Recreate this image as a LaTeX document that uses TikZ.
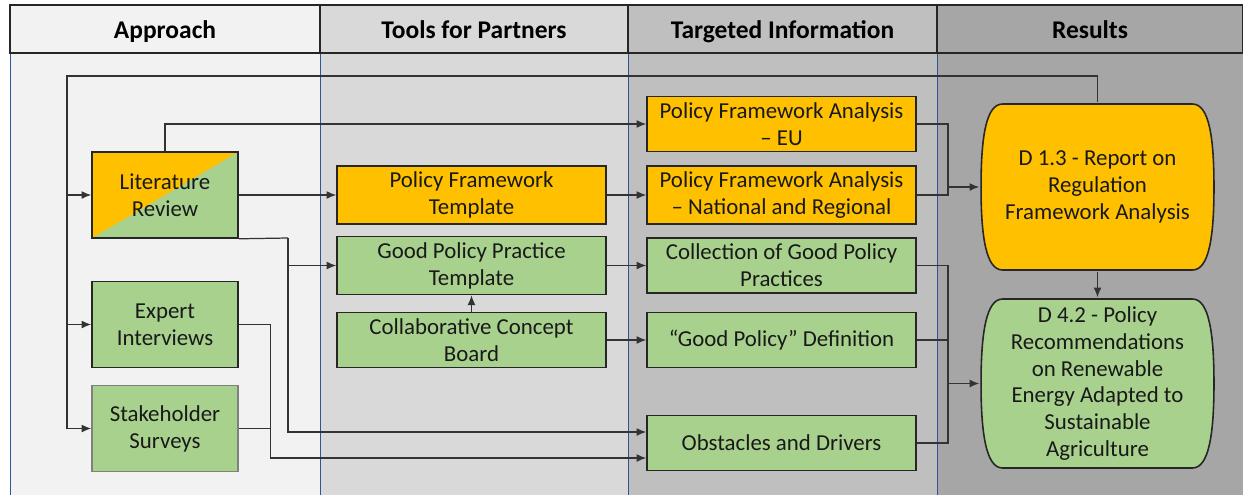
\documentclass[tikz,border=0pt]{standalone}
\usepackage{fontspec}
\setmainfont{Carlito}
\usepackage{tikz}
\usetikzlibrary{arrows.meta}

\definecolor{colA}{HTML}{F2F2F2}
\definecolor{colT}{HTML}{D9D9D9}
\definecolor{colI}{HTML}{BFBFBF}
\definecolor{colR}{HTML}{A6A6A6}
\definecolor{amber}{HTML}{FFC000}
\definecolor{leaf}{HTML}{A9D18E}
\definecolor{sepblue}{HTML}{2F5597}

\begin{document}
\begin{tikzpicture}[x=0.02cm,y=-0.02cm]
\tikzset{head/.style = {draw=black!85,line width=1.2pt,minimum height=0.96cm,text height=2.3ex,text depth=0.1ex,font=\fontsize{14.5}{16}\selectfont\bfseries}}
\tikzset{box/.style = {draw=black!85,line width=0.9pt,align=center,text=black!90,font=\fontsize{13}{15.3}\selectfont}}
\tikzset{apbox/.style = {box,fill=leaf,minimum width=2.92cm,minimum height=1.72cm}}
\tikzset{wbox/.style = {box,minimum width=5.38cm,minimum height=1.1cm}}
\tikzset{result/.style = {box,draw=none,minimum width=4.7cm,
  path picture={\filldraw[fill=#1,draw=black!85,line width=0.9pt]
    ([xshift=0.45cm,yshift=-0.02cm]path picture bounding box.north west) -- ([xshift=-0.45cm,yshift=-0.02cm]path picture bounding box.north east)
    .. controls ([xshift=-0.12cm,yshift=-0.02cm]path picture bounding box.north east) and ([xshift=-0.02cm,yshift=1.0cm]path picture bounding box.east) .. ([xshift=-0.02cm]path picture bounding box.east)
    .. controls ([xshift=-0.02cm,yshift=-1.0cm]path picture bounding box.east) and ([xshift=-0.12cm,yshift=0.02cm]path picture bounding box.south east) .. ([xshift=-0.45cm,yshift=0.02cm]path picture bounding box.south east)
    -- ([xshift=0.45cm,yshift=0.02cm]path picture bounding box.south west)
    .. controls ([xshift=0.12cm,yshift=0.02cm]path picture bounding box.south west) and ([xshift=0.02cm,yshift=-1.0cm]path picture bounding box.west) .. ([xshift=0.02cm]path picture bounding box.west)
    .. controls ([xshift=0.02cm,yshift=1.0cm]path picture bounding box.west) and ([xshift=0.12cm,yshift=-0.02cm]path picture bounding box.north west) .. cycle;}}}
\tikzset{edge/.style = {-,draw=black!80,line width=0.7pt}}
\tikzset{arr/.style = {edge,->,> = {Latex[length=5.5pt,width=4.5pt]}}}
\useasboundingbox (0,0) rectangle (1243,495);
% columns
\fill[colA] (10,53) rectangle (320,495);
\fill[colT] (320,53) rectangle (628,495);
\fill[colI] (628,53) rectangle (937,495);
\fill[colR] (937,53) rectangle (1243,495);
\foreach \x in {10,320,628,937}
  \draw[sepblue,line width=0.5pt] (\x,53) -- (\x,495);
\node[head,fill=colA,minimum width=6.2cm]  (hA) at (165,29)  {Approach};
\node[head,fill=colT,minimum width=6.16cm] (hT) at (474,29)  {Tools for Partners};
\node[head,fill=colI,minimum width=6.18cm] (hI) at (782.5,29) {Targeted Information};
\node[head,fill=colR,minimum width=6.12cm] (hR) at (1090,29) {Results};
% vertices
\node[apbox,path picture={\fill[amber] (path picture bounding box.north west) -- (path picture bounding box.north east) -- (path picture bounding box.south west) -- cycle;}] (lit) at (165,195) {Literature\\Review};
\node[apbox] (expert) at (165,324.5) {Expert\\Interviews};
\node[apbox,draw=black!50] (stake) at (165,428.5) {Stakeholder\\Surveys};
\node[wbox,fill=amber] (pft) at (471.5,195) {Policy Framework\\Template};
\node[wbox,fill=leaf] (gppt) at (471.5,265.5) {Good Policy Practice\\Template};
\node[wbox,fill=leaf] (ccb) at (471.5,340) {Collaborative Concept\\Board};
\node[wbox,fill=amber] (eu) at (781.5,124) {Policy Framework Analysis\\– EU};
\node[wbox,fill=amber] (nr) at (781.5,195) {Policy Framework Analysis\\– National and Regional};
\node[wbox,fill=leaf] (coll) at (781.5,265.5) {Collection of Good Policy\\Practices};
\node[wbox,fill=leaf] (gpd) at (781.5,340) {“Good Policy” Definition};
\node[wbox,fill=leaf] (obs) at (781.5,443) {Obstacles and Drivers};
\node[result=amber,minimum height=3.36cm] (d13) at (1097.5,187) {D 1.3 - Report on\\Regulation\\Framework Analysis};
\node[result=leaf,minimum height=3.42cm] (d42) at (1097.5,383.5) {D 4.2 - Policy\\Recommendations\\on Renewable\\Energy Adapted to\\Sustainable\\Agriculture};
\coordinate (loop) at (67,76);
\coordinate (fork) at (288,238);
\coordinate (bus1) at (948,124);
\coordinate (bus2) at (948,265.5);
%edges
\draw[arr] (d13.north) |- (loop) |- (stake.west);
\draw[arr] (loop |- lit.west) -- (lit.west);
\draw[arr] (loop |- expert.west) -- (expert.west);
\draw[arr] (lit.north) |- (eu.west);
\draw[arr] (lit) -- (pft);
\draw[edge] (lit.south east) -- (fork);
\draw[arr] (fork) |- (gppt.west);
\draw[arr] (fork) |- ([yshift=0.22cm]obs.west);
\draw[arr] (expert.east) -- ++(32,0) |- ([yshift=-0.3cm]obs.west);
\draw[edge] (stake.east) -- ++(32,0);
\draw[arr] (pft) -- (nr);
\draw[arr] (gppt) -- (coll);
\draw[arr] (ccb) -- (gppt);
\draw[arr] (ccb) -- (gpd);
\draw[edge] (eu.east) -- (bus1) |- (nr.east);
\draw[arr] (bus1 |- d13.west) -- (d13.west);
\draw[edge] (coll.east) -- (bus2) |- (obs.east);
\draw[edge] (gpd.east) -- (gpd.east -| bus2);
\draw[arr] (bus2 |- d42.west) -- (d42.west);
\draw[arr] (d13) -- (d42);
\end{tikzpicture}
\end{document}
